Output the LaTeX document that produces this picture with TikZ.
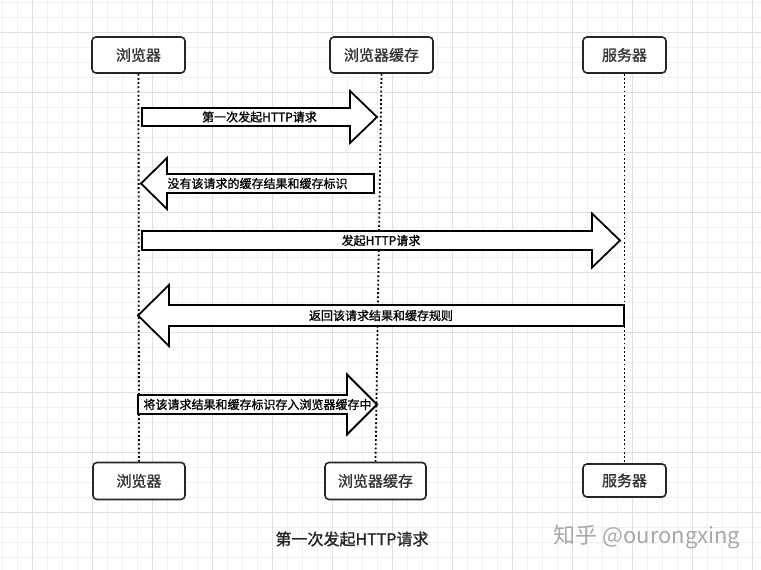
\documentclass[tikz,border=0pt]{standalone}
\usepackage{fontspec}
\usetikzlibrary{calc,positioning}
\newfontfamily\cjk[FakeBold=1.2]{Noto Sans CJK SC}
\newfontfamily\cjklight{Noto Sans CJK SC}
\definecolor{gridminor}{HTML}{F0F0F0}
\definecolor{gridmajor}{HTML}{E0E0E0}
\definecolor{labeltext}{HTML}{333333}
\definecolor{markgray}{HTML}{A8A8A8}

\tikzset{
	actor/.style={draw=black!85, line width=1.6pt, rounded corners=4pt, fill=white, text=labeltext, font=\cjk\fontsize{15}{15}\selectfont, minimum height=36pt, inner sep=0},
	lifeline/.style={line width=1.8pt, dash pattern=on 1.8pt off 2.4pt},
	blockarr/.style={draw=black, line width=1.8pt, fill=white, line join=miter},
	msg/.style={font=\cjk\fontsize{12}{12}\selectfont, inner sep=0},
}

% #1 name, #2 tail, #3 tip, #4 head length, #5 body half, #6 head half, #7 text
\newcommand{\msgarrow}[7]{%
	\coordinate (#1hb) at ($(#3)!#4!(#2)$);
	\draw [blockarr] ($(#2)!#5!90:(#3)$) -- ($(#1hb)!#5!-90:(#2)$) -- ($(#1hb)!#6!-90:(#2)$) -- (#3)
		-- ($(#1hb)!#6!90:(#2)$) -- ($(#1hb)!#5!90:(#2)$) -- ($(#2)!#5!-90:(#3)$) -- cycle;
	\node [msg] (#1) at ($(#2)!0.5!(#3)$) {#7};
}

\begin{document}
\begin{tikzpicture}[x=1pt, y=-1pt]
	\useasboundingbox (0,0) rectangle (761,570);
	\fill [white] (0,0) rectangle (761,570);
	% grid
	\draw [gridminor, line width=0.8pt, shift={(2,2)}, step=15pt] (-2,-2) grid (759,568);
	\draw [gridmajor, line width=0.9pt, shift={(32,32)}, step=60pt] (-32,-32) grid (729,538);
	% actors
	\node [actor, minimum width=93pt] (brT) at (138.5,55) {浏览器};
	\node [actor, minimum width=103pt] (caT) at (381.5,55) {浏览器缓存};
	\node [actor, minimum width=83pt] (svT) at (624.5,55) {服务器};
	\node [actor, minimum width=92pt, minimum height=37pt] (brB) at (139,481) {浏览器};
	\node [actor, minimum width=101pt, minimum height=37pt] (caB) at (375.5,481) {浏览器缓存};
	\node [actor, minimum width=83pt, minimum height=33pt] (svB) at (624.5,480.5) {服务器};
	\draw [lifeline] (brT.south) -- (brB.north);
	\draw [lifeline] (caT.south) -- (caB.north);
	\draw [lifeline] (svT.south) -- (svB.north);
	% messages
	\coordinate (m1a) at (142,117);
	\coordinate (m1b) at (377,117);
	\coordinate (m2a) at (374,183.5);
	\coordinate (m2b) at (141,183.5);
	\coordinate (m3a) at (142,240.5);
	\coordinate (m3b) at (620,240.5);
	\coordinate (m4a) at (624,315.5);
	\coordinate (m4b) at (138,315.5);
	\coordinate (m5a) at (138,404.5);
	\coordinate (m5b) at (377,404.5);
	\msgarrow{first}{m1a}{m1b}{27pt}{9pt}{26pt}{第一次发起HTTP请求}
	\msgarrow{nocache}{m2a}{m2b}{26pt}{9.5pt}{25.5pt}{没有该请求的缓存结果和缓存标识}
	\msgarrow{send}{m3a}{m3b}{28pt}{9.5pt}{27pt}{发起HTTP请求}
	\msgarrow{back}{m4a}{m4b}{31pt}{10.5pt}{30.5pt}{返回该请求结果和缓存规则}
	\msgarrow{store}{m5a}{m5b}{30pt}{9.5pt}{30pt}{将该请求结果和缓存标识存入浏览器缓存中}
	% caption
	\node [font=\cjk\fontsize{16}{16}\selectfont, text=black!85] (title) at (352,539) {第一次发起HTTP请求};
	\node [font=\cjklight\fontsize{22}{22}\selectfont, text=markgray] (mark) at (647,537) {知乎 @ourongxing};
\end{tikzpicture}
\end{document}
